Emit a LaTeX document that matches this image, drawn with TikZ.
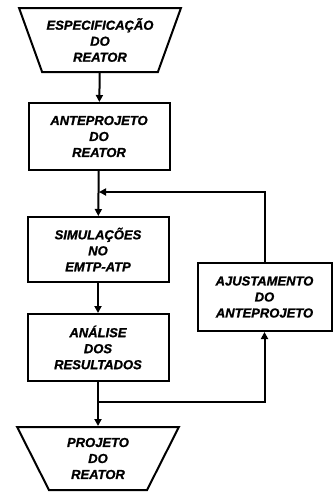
\documentclass[tikz,border=0pt]{standalone}
\usepackage{fontspec}
\setmainfont{Liberation Sans}[BoldItalicFeatures={FakeBold=1.2}]
\usepackage{tikz}
\usetikzlibrary{shapes.geometric,arrows.meta,positioning}

\begin{document}
\begin{tikzpicture}[x=1pt, y=-1pt,
  every node/.style={align=center, font=\fontsize{13}{16}\selectfont\bfseries\itshape, line width=2pt, inner sep=0pt},
  stepbox/.style={draw, rectangle, minimum width=141pt, minimum height=67pt},
  ends/.style={draw, trapezium, trapezium angle=64, shape border rotate=180, trapezium stretches=true, minimum width=162pt, minimum height=64pt},
  arrow/.style={-{Triangle[length=7pt,width=7pt]}, line width=2pt}
]
  \useasboundingbox (0,0) rectangle (333,493);
  \node[ends]    (spec)  at (100,40)    {ESPECIFICAÇÃO\\DO\\REATOR};
  \node[stepbox] (ante)  at (99,136.5)  {ANTEPROJETO\\DO\\REATOR};
  \node[stepbox, minimum height=65pt] (sim) at (98,249.5) {SIMULAÇÕES\\NO\\EMTP-ATP};
  \node[stepbox] (anal)  at (98,347.5)  {ANÁLISE\\DOS\\RESULTADOS};
  \node[stepbox, minimum width=134pt, minimum height=68pt] (ajust) at (264.5,297) {AJUSTAMENTO\\DO\\ANTEPROJETO};
  \node[ends, minimum height=63pt] (proj) at (98,458.5) {PROJETO\\DO\\REATOR};
  \coordinate (join)  at (99,192);
  \coordinate (split) at (98,402);
  \draw[arrow] (spec) -- (ante);
  \draw[arrow] (ante) -- (sim);
  \draw[arrow] (sim) -- (anal);
  \draw[arrow] (anal) -- (proj);
  \draw[arrow] (ajust.north) |- (join);
  \draw[arrow] (split) -| (ajust.south);
\end{tikzpicture}
\end{document}
